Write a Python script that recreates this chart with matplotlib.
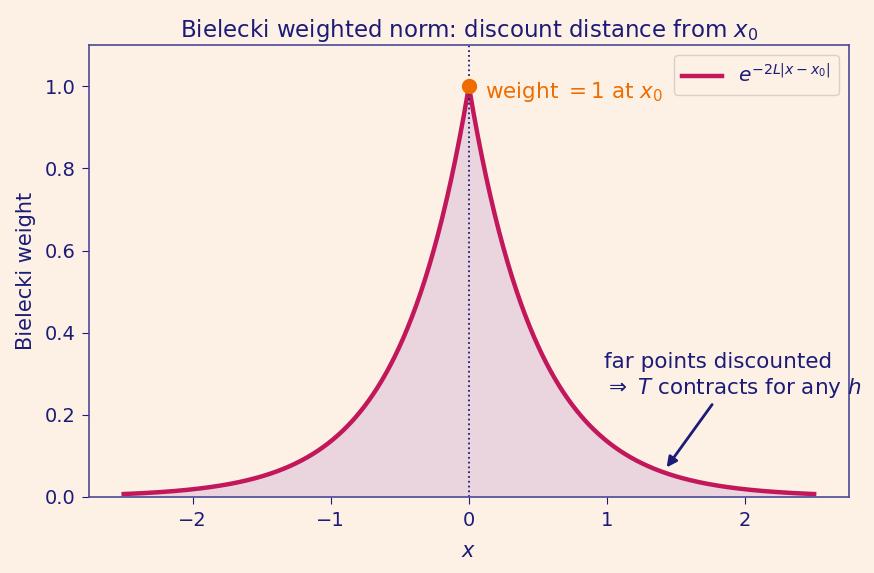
import matplotlib
matplotlib.use("Agg")
import matplotlib.pyplot as plt
import numpy as np

# parameters of the weight shown in the legend
L = 1.0
x0 = 0.0
x_range = [-2.5, 2.5]

navy = "#1c1c78"
crimson = "#c2185b"
orange = "#ef6c00"
bg = "#fdf1e6"

x = np.linspace(x_range[0], x_range[1], 801)
weight = np.exp(-2 * L * np.abs(x - x0))

fig, ax = plt.subplots(figsize=(8.74, 5.73), dpi=100)
fig.patch.set_facecolor(bg)
ax.set_facecolor(bg)

ax.fill_between(x, 0, weight, color="#ead5de", lw=0)
ax.plot(x, weight, color=crimson, lw=3.2, label=r"$e^{-2L|x-x_0|}$")
ax.axvline(x0, color=navy, ls=":", lw=1.3)
ax.plot([x0], [1.0], "o", color=orange, ms=10, zorder=5)
ax.text(x0 + 0.12, 0.985, r"weight $=1$ at $x_0$", color=orange,
        fontsize=15.5, va="center", ha="left")

ax.annotate("far points discounted\n" + r"$\Rightarrow$ $T$ contracts for any $h$",
            xy=(1.42, 0.066), xytext=(0.98, 0.295), color=navy, fontsize=15.5,
            ha="left", va="center",
            arrowprops=dict(arrowstyle="-|>", color=navy, lw=2, mutation_scale=15))

ax.set_ylim(0, 1.1)
ax.set_title(r"Bielecki weighted norm: discount distance from $x_0$", color=navy, fontsize=16.5)
ax.set_xlabel("$x$", color=navy, fontsize=15, labelpad=8)
ax.set_ylabel("Bielecki weight", color=navy, fontsize=15, labelpad=6)
ax.tick_params(colors=navy, labelsize=14, length=5, pad=5)
for s in ax.spines.values():
    s.set_color("#4a4a98")
    s.set_linewidth(1.2)

leg = ax.legend(loc="upper right", fontsize=14.5, facecolor=bg, edgecolor="#d8d0c8", framealpha=1)
for t in leg.get_texts():
    t.set_color(navy)

fig.subplots_adjust(left=0.102, right=0.971, top=0.921, bottom=0.133)
plt.savefig("out.png", dpi=100, facecolor=bg)
